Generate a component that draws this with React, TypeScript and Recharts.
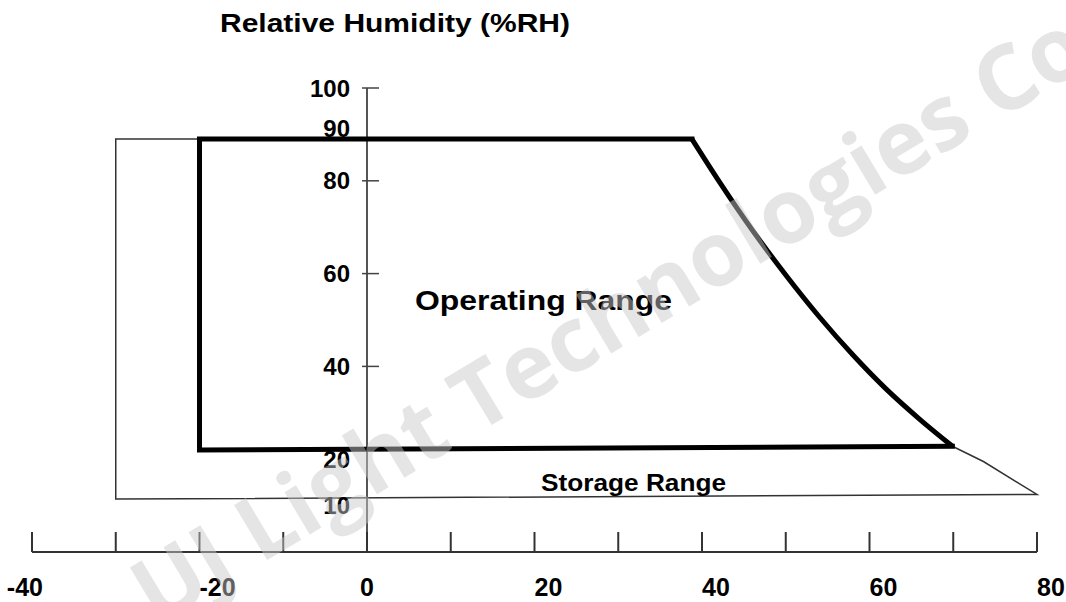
import React from "react";
import {
  ComposedChart,
  Line,
  Scatter,
  XAxis,
  YAxis,
  ReferenceLine,
} from "recharts";

// temperature (°C) axis
const xTicks = [-40, -30, -20, -10, 0, 10, 20, 30, 40, 50, 60, 70, 80];
const xLabels = [-40, -20, 0, 20, 40, 60, 80];

// relative humidity axis, drawn along x = 0
const yTicks = [100, 90, 80, 60, 40, 20, 10];
const yTickMarks = [100, 80, 60, 40];

// operating range: straight part of the outline
const boxTemp = [38.8, -20, -20, 69.9];
const boxRH = [89, 89, 22, 22.8];

// operating range: curved high-temperature limit
const curveTemp = [38.8, 42, 46, 50, 54, 58, 62, 66, 69.9];
const curveRH = [89, 80, 69.4, 59.7, 50.7, 42.5, 35.1, 28.6, 22.8];

// storage range outline (the part not shared with the operating range)
const storageTemp = [-20, -30, -30, 80, 73.6, 69.9];
const storageRH = [89, 89, 11.4, 12.4, 19.5, 22.8];

const box = boxTemp.map((x, i) => ({ x, y: boxRH[i] }));
const curve = curveTemp.map((x, i) => ({ x, y: curveRH[i] }));
const storage = storageTemp.map((x, i) => ({ x, y: storageRH[i] }));
const yTickData = yTicks.map((v) => ({ x: 0, y: v }));

const font = "'Liberation Sans', Arial, sans-serif";

function XTick(props: any) {
  const { x, y, payload, index } = props;
  const v = payload.value;
  const show = xLabels.includes(v);
  let anchor: "start" | "middle" | "end" = "start";
  let tx = x;
  if (index === 0) {
    anchor = "end";
    tx = x + 11;
  } else if (v === 0) {
    anchor = "middle";
  }
  return (
    <g>
      <line x1={x} x2={x} y1={y - 20} y2={y} stroke="#333" strokeWidth={2} />
      {show && (
        <text
          x={tx}
          y={y + 44}
          textAnchor={anchor}
          fontFamily={font}
          fontWeight="bold"
          fontSize={25}
          fill="#000"
        >
          {v}
        </text>
      )}
    </g>
  );
}

function YTick(props: any) {
  const { cx, cy, payload } = props;
  const v = payload.y;
  const dy = v === 90 ? -6 : 0;
  return (
    <g>
      {yTickMarks.includes(v) && (
        <line x1={cx - 5} x2={cx + 12} y1={cy} y2={cy} stroke="#444" strokeWidth={1.5} />
      )}
      <text
        x={cx - 17}
        y={cy + 8.5 + dy}
        textAnchor="end"
        fontFamily={font}
        fontWeight="bold"
        fontSize={24}
        fill="#000"
      >
        {v}
      </text>
    </g>
  );
}

export default function App() {
  return (
    <div
      style={{
        position: "absolute",
        left: 0,
        top: 0,
        width: 1066,
        height: 602,
        background: "#fff",
        overflow: "hidden",
      }}
    >
      <ComposedChart
        width={1066}
        height={602}
        margin={{ top: 88, right: 29, bottom: 0, left: 32 }}
      >
        <XAxis
          dataKey="x"
          type="number"
          domain={[-40, 80]}
          ticks={xTicks}
          height={50}
          tickSize={0}
          tickMargin={0}
          tickLine={false}
          axisLine={{ stroke: "#333", strokeWidth: 2 }}
          tick={<XTick />}
          interval={0}
        />
        <YAxis type="number" domain={[0, 100]} hide width={0} />
        <ReferenceLine
          segment={[
            { x: 0, y: 0 },
            { x: 0, y: 100 },
          ]}
          stroke="#555"
          strokeWidth={2}
        />
        <Line
          data={storage}
          dataKey="y"
          type="linear"
          stroke="#333"
          strokeWidth={1.5}
          dot={false}
          activeDot={false}
          isAnimationActive={false}
        />
        <Line
          data={box}
          dataKey="y"
          type="linear"
          stroke="#000"
          strokeWidth={5}
          strokeLinejoin="miter"
          strokeLinecap="square"
          dot={false}
          activeDot={false}
          isAnimationActive={false}
        />
        <Line
          data={curve}
          dataKey="y"
          type="monotone"
          stroke="#000"
          strokeWidth={5}
          dot={false}
          activeDot={false}
          isAnimationActive={false}
        />
        <Scatter
          data={yTickData}
          dataKey="y"
          shape={(p: any) => <YTick {...p} />}
          isAnimationActive={false}
        />
      </ComposedChart>
      <svg
        width={1066}
        height={602}
        style={{ position: "absolute", left: 0, top: 0, pointerEvents: "none" }}
      >
        <text
          x={220}
          y={32}
          textLength={350}
          lengthAdjust="spacingAndGlyphs"
          fontFamily={font}
          fontWeight="bold"
          fontSize={25}
        >
          Relative Humidity (%RH)
        </text>
        <text
          x={415}
          y={310}
          textLength={257}
          lengthAdjust="spacingAndGlyphs"
          fontFamily={font}
          fontWeight="bold"
          fontSize={27}
        >
          Operating Range
        </text>
        <text
          x={541}
          y={491}
          textLength={185}
          lengthAdjust="spacingAndGlyphs"
          fontFamily={font}
          fontWeight="bold"
          fontSize={24}
        >
          Storage Range
        </text>
        <text
          x={625}
          y={345}
          textAnchor="middle"
          transform="rotate(-31 625 345)"
          fontFamily="'Open Sans', 'Noto Sans', sans-serif"
          fontWeight={700}
          fontSize={90}
          fill="rgb(200,200,200)"
          fillOpacity={0.48}
        >
          UJ Light Technologies Co
        </text>
      </svg>
    </div>
  );
}
